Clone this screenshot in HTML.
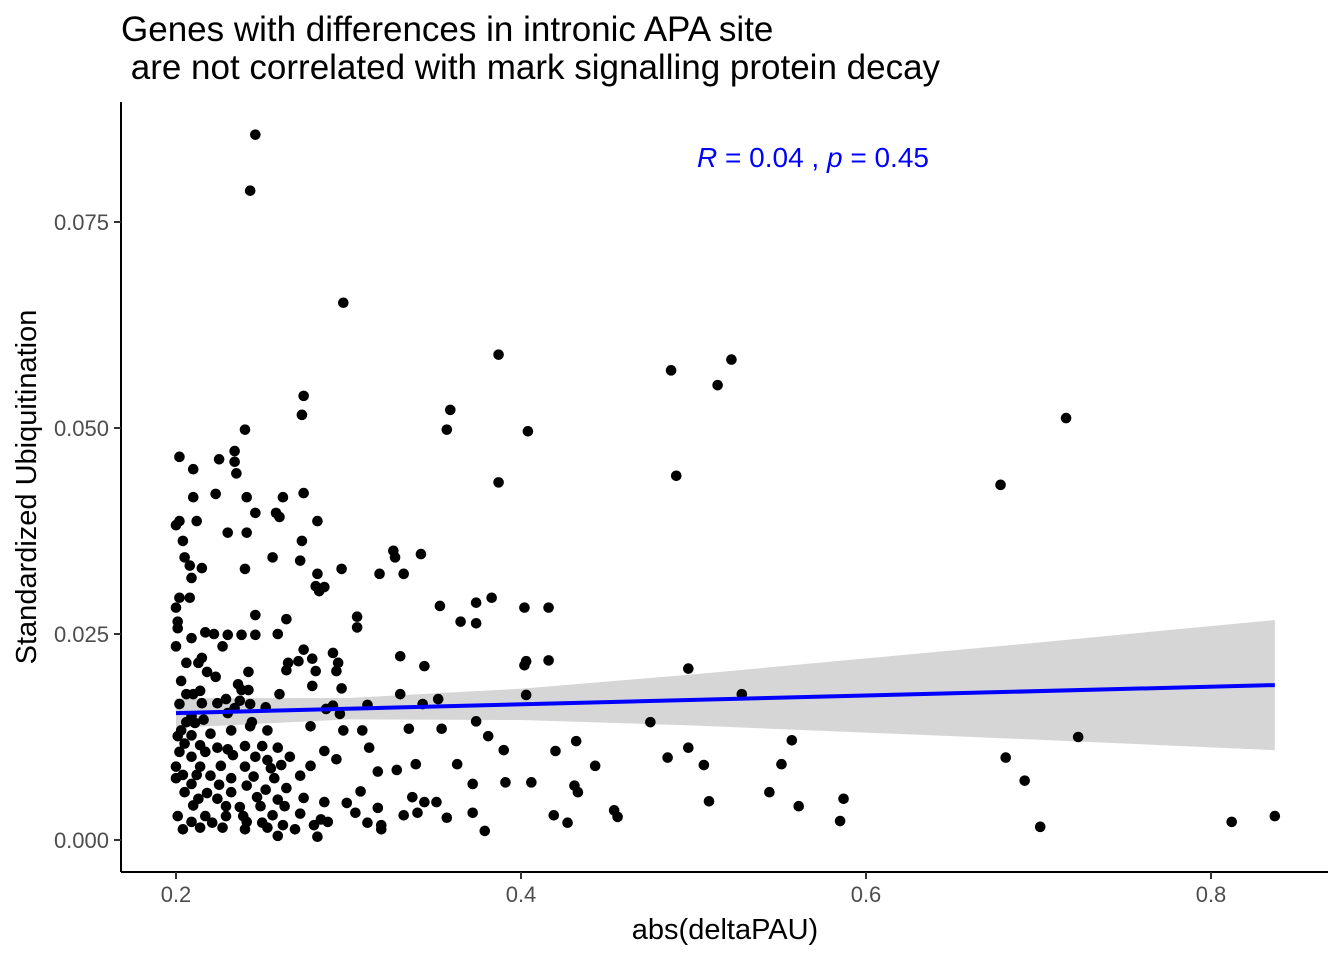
<!DOCTYPE html>
<html><head><meta charset="utf-8"><style>
html,body{margin:0;padding:0;background:#fff;}
svg{display:block;font-family:"Liberation Sans",sans-serif;}
</style></head><body>
<svg id="chart" width="1344" height="960" viewBox="0 0 1344 960" xmlns="http://www.w3.org/2000/svg">
<text x="121" y="41" font-size="35" fill="#000">Genes with differences in intronic APA site</text>
<text x="121" y="79" font-size="35" fill="#000" xml:space="preserve"> are not correlated with mark signalling protein decay</text>
<g id="band"></g>
<g id="points"></g>
<g id="fit"></g>
<line x1="121" y1="102" x2="121" y2="872" stroke="#000" stroke-width="2"/>
<line x1="121" y1="872" x2="1328" y2="872" stroke="#000" stroke-width="2"/>
<g id="xticks"></g>
<g id="yticks"></g>
<text x="725" y="939" font-size="29" text-anchor="middle" fill="#000">abs(deltaPAU)</text>
<text transform="translate(36,487) rotate(-90)" font-size="29" text-anchor="middle" fill="#000">Standardized Ubiquitination</text>
<text x="697" y="167" font-size="28" fill="#0000ff"><tspan font-style="italic">R</tspan> = 0.04 , <tspan font-style="italic">p</tspan> = 0.45</text>
</svg>
<script>
const xVals=[0.246,0.243,0.297,0.387,0.487,0.522,0.514,0.716,0.359,0.357,0.404,0.387,0.490,0.678,0.274,0.273,0.240,0.202,0.234,0.234,0.235,0.225,0.210,0.223,0.241,0.262,0.274,0.210,0.258,0.246,0.260,0.282,0.212,0.202,0.200,0.230,0.241,0.204,0.273,0.326,0.327,0.342,0.205,0.256,0.272,0.208,0.215,0.240,0.296,0.318,0.332,0.209,0.282,0.281,0.286,0.283,0.202,0.208,0.383,0.374,0.353,0.402,0.416,0.200,0.305,0.305,0.365,0.374,0.264,0.246,0.201,0.201,0.217,0.222,0.230,0.238,0.246,0.259,0.209,0.200,0.227,0.274,0.291,0.330,0.279,0.416,0.403,0.402,0.215,0.206,0.213,0.265,0.271,0.294,0.344,0.497,0.293,0.264,0.281,0.242,0.218,0.223,0.203,0.236,0.296,0.279,0.238,0.214,0.242,0.260,0.330,0.403,0.528,0.206,0.210,0.229,0.237,0.224,0.202,0.215,0.352,0.343,0.311,0.243,0.291,0.252,0.234,0.287,0.230,0.295,0.209,0.216,0.206,0.211,0.244,0.374,0.475,0.278,0.243,0.203,0.308,0.335,0.354,0.253,0.232,0.220,0.209,0.381,0.201,0.723,0.297,0.432,0.557,0.205,0.214,0.250,0.224,0.240,0.230,0.259,0.312,0.286,0.420,0.390,0.497,0.217,0.233,0.246,0.266,0.202,0.209,0.253,0.293,0.681,0.485,0.363,0.339,0.506,0.443,0.551,0.200,0.214,0.226,0.240,0.255,0.261,0.278,0.317,0.328,0.204,0.212,0.220,0.232,0.245,0.257,0.272,0.692,0.391,0.406,0.372,0.209,0.225,0.241,0.200,0.252,0.264,0.431,0.433,0.205,0.218,0.232,0.307,0.544,0.213,0.224,0.247,0.259,0.274,0.337,0.587,0.344,0.351,0.509,0.561,0.454,0.210,0.229,0.237,0.249,0.263,0.299,0.286,0.317,0.201,0.217,0.229,0.239,0.256,0.272,0.284,0.304,0.332,0.340,0.357,0.372,0.419,0.456,0.837,0.812,0.585,0.427,0.701,0.209,0.221,0.241,0.250,0.262,0.280,0.288,0.311,0.319,0.204,0.214,0.227,0.240,0.269,0.319,0.379,0.259,0.282,0.253];
const yVals=[0.0856,0.0788,0.0652,0.0589,0.0570,0.0583,0.0552,0.0512,0.0522,0.0498,0.0496,0.0434,0.0442,0.0431,0.0539,0.0516,0.0498,0.0465,0.0472,0.0459,0.0445,0.0462,0.0450,0.0420,0.0416,0.0416,0.0421,0.0416,0.0397,0.0397,0.0392,0.0387,0.0387,0.0387,0.0382,0.0373,0.0373,0.0363,0.0363,0.0351,0.0343,0.0347,0.0343,0.0343,0.0339,0.0333,0.0330,0.0329,0.0329,0.0323,0.0323,0.0318,0.0323,0.0308,0.0307,0.0302,0.0294,0.0294,0.0294,0.0288,0.0284,0.0282,0.0282,0.0282,0.0271,0.0258,0.0265,0.0263,0.0268,0.0273,0.0265,0.0257,0.0252,0.0250,0.0249,0.0249,0.0249,0.0250,0.0245,0.0235,0.0235,0.0231,0.0227,0.0223,0.0220,0.0218,0.0217,0.0212,0.0221,0.0215,0.0215,0.0215,0.0217,0.0215,0.0211,0.0208,0.0205,0.0206,0.0205,0.0204,0.0204,0.0198,0.0193,0.0189,0.0184,0.0187,0.0182,0.0181,0.0182,0.0177,0.0177,0.0176,0.0177,0.0177,0.0177,0.0171,0.0169,0.0166,0.0165,0.0166,0.0171,0.0165,0.0164,0.0165,0.0163,0.0161,0.0160,0.0159,0.0154,0.0153,0.0150,0.0146,0.0143,0.0142,0.0143,0.0144,0.0143,0.0138,0.0138,0.0133,0.0133,0.0135,0.0135,0.0133,0.0133,0.0129,0.0127,0.0126,0.0126,0.0125,0.0133,0.0120,0.0121,0.0117,0.0115,0.0114,0.0112,0.0114,0.0110,0.0112,0.0112,0.0108,0.0108,0.0109,0.0112,0.0107,0.0103,0.0101,0.0101,0.0107,0.0101,0.0097,0.0098,0.0100,0.0100,0.0092,0.0092,0.0091,0.0090,0.0092,0.0089,0.0089,0.0090,0.0089,0.0087,0.0091,0.0090,0.0083,0.0085,0.0079,0.0079,0.0078,0.0075,0.0077,0.0075,0.0078,0.0072,0.0070,0.0070,0.0068,0.0068,0.0067,0.0066,0.0075,0.0061,0.0063,0.0066,0.0058,0.0058,0.0057,0.0058,0.0059,0.0058,0.0050,0.0050,0.0052,0.0049,0.0051,0.0052,0.0050,0.0046,0.0046,0.0047,0.0041,0.0036,0.0042,0.0041,0.0040,0.0041,0.0041,0.0045,0.0046,0.0039,0.0029,0.0029,0.0029,0.0029,0.0030,0.0032,0.0025,0.0033,0.0030,0.0033,0.0027,0.0033,0.0030,0.0028,0.0029,0.0022,0.0023,0.0021,0.0016,0.0022,0.0021,0.0022,0.0021,0.0018,0.0018,0.0022,0.0021,0.0018,0.0013,0.0015,0.0015,0.0013,0.0013,0.0013,0.0011,0.0005,0.0004,0.0015];
const fitX=[0.2,0.837];
const fitY=[0.0154,0.0188];
const ciX=[0.2,0.3,0.4,0.5,0.6,0.7,0.837];
const ciHalf=[0.0018,0.0013,0.0019,0.0031,0.0045,0.0059,0.0079];
const xTicks=[0.2,0.4,0.6,0.8];
const xTickLabels=["0.2","0.4","0.6","0.8"];
const yTicks=[0,0.025,0.05,0.075];
const yTickLabels=["0.000","0.025","0.050","0.075"];

const NS="http://www.w3.org/2000/svg";
const sx=v=>176+(v-0.2)*1725;
const sy=v=>840-v*8240;
function mk(tag,attrs,parent){const e=document.createElementNS(NS,tag);for(const k in attrs)e.setAttribute(k,attrs[k]);parent.appendChild(e);return e;}

const xt=document.getElementById('xticks');
xTicks.forEach((t,i)=>{
  const l=mk('line',{x1:sx(t),x2:sx(t),y1:872,y2:879,stroke:'#333','stroke-width':2},xt);
  
  
  const tx=mk('text',{x:sx(t),y:902,'font-size':22,'text-anchor':'middle',fill:'#4d4d4d'},xt);
  tx.textContent=xTickLabels[i];
  
  
});
const yt=document.getElementById('yticks');
yTicks.forEach((t,i)=>{
  const l=mk('line',{x1:114,x2:121,y1:sy(t),y2:sy(t),stroke:'#333','stroke-width':2},yt);
  
  
  const tx=mk('text',{x:109,y:sy(t)+8,'font-size':22,'text-anchor':'end',fill:'#4d4d4d'},yt);
  tx.textContent=yTickLabels[i];
  
  
});

const fitAt=x=>fitY[0]+(fitY[1]-fitY[0])*(x-fitX[0])/(fitX[1]-fitX[0]);
const up=ciX.map((x,i)=>[sx(x),sy(fitAt(x)+ciHalf[i])]);
const lo=ciX.map((x,i)=>[sx(x),sy(fitAt(x)-ciHalf[i])]).reverse();
const pts=up.concat(lo).map(p=>p[0].toFixed(1)+','+p[1].toFixed(1)).join(' ');
const band=mk('polygon',{points:pts,fill:'#999','fill-opacity':0.4},document.getElementById('band'));



const pg=document.getElementById('points');
for(let i=0;i<xVals.length;i++){
  const c=mk('circle',{cx:sx(xVals[i]),cy:sy(yVals[i]),r:5.3,fill:'#000'},pg);
  
  
}
const fl=mk('line',{x1:sx(fitX[0]),y1:sy(fitY[0]),x2:sx(fitX[1]),y2:sy(fitY[1]),stroke:'#0000ff','stroke-width':4},document.getElementById('fit'));


</script>
</body></html>
